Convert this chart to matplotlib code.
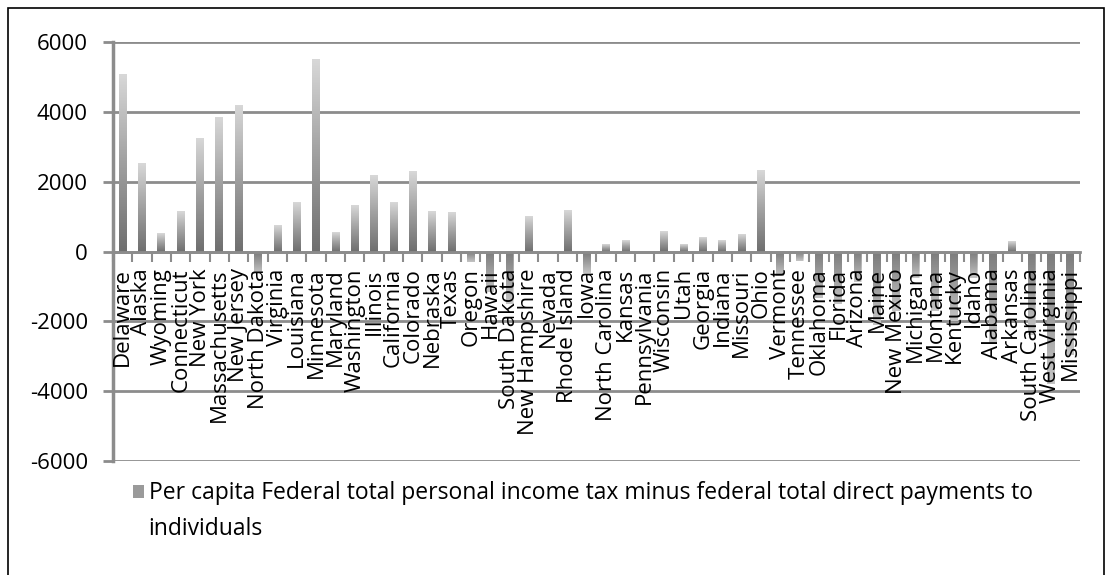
import numpy as np
import matplotlib
matplotlib.use('Agg')
import matplotlib.pyplot as plt
from matplotlib.colors import LinearSegmentedColormap
from matplotlib.patches import Rectangle

plt.rcParams['font.family'] = ['Open Sans', 'DejaVu Sans']

states = ['Delaware', 'Alaska', 'Wyoming', 'Connecticut', 'New York', 'Massachusetts',
          'New Jersey', 'North Dakota', 'Virginia', 'Louisiana', 'Minnesota', 'Maryland',
          'Washington', 'Illinois', 'California', 'Colorado', 'Nebraska', 'Texas',
          'Oregon', 'Hawaii', 'South Dakota', 'New Hampshire', 'Nevada', 'Rhode Island',
          'Iowa', 'North Carolina', 'Kansas', 'Pennsylvania', 'Wisconsin', 'Utah',
          'Georgia', 'Indiana', 'Missouri', 'Ohio', 'Vermont', 'Tennessee', 'Oklahoma',
          'Florida', 'Arizona', 'Maine', 'New Mexico', 'Michigan', 'Montana', 'Kentucky',
          'Idaho', 'Alabama', 'Arkansas', 'South Carolina', 'West Virginia', 'Mississippi']

net_per_capita = [5070, 2530, 530, 1160, 3240, 3850,
                  4210, -600, 760, 1410, 5500, 550,
                  1340, 2200, 1410, 2310, 1160, 1120,
                  -300, -1150, -1500, 1020, -40, 1190,
                  -600, 220, 330, -30, 590, 220,
                  410, 330, 510, 2330, -700, -260, -1330,
                  -1500, -860, -2100, -1700, -760, -1700, -2000,
                  -760, -2650, 300, -2400, -3800, -2950]

yticks = [-6000, -4000, -2000, 0, 2000, 4000, 6000]
legend_line1 = 'Per capita Federal total personal income tax minus federal total direct payments to'
legend_line2 = 'individuals'

grey = '#8c8c8c'
fig = plt.figure(figsize=(11.12, 5.75), dpi=100)
ax = fig.add_axes([0.1016, 0.198, 0.8696, 0.729])

x = np.arange(len(states))
bars = ax.bar(x, net_per_capita, width=0.4, color='#9a9a9a', zorder=2,
              label=legend_line1)

# shade each bar: dark at the zero line, light at the tip
shade = LinearSegmentedColormap.from_list('shade', ['#6e6e6e', '#a0a0a0', '#d8d8d8'])
grad = np.linspace(0, 1, 256).reshape(-1, 1)
for b in bars:
    x0, y0 = b.get_x(), b.get_y()
    w, h = b.get_width(), b.get_height()
    im = ax.imshow(grad, cmap=shade, extent=(x0, x0 + w, y0, y0 + h),
                   origin='lower', aspect='auto', zorder=2.1, interpolation='bilinear',
                   alpha=1.0 if h >= 0 else 0.7)
    im.set_clip_path(b)

ax.set_xlim(-0.5, len(states) - 0.5)
ax.set_ylim(-6000, 6000)
ax.set_yticks(yticks)
ax.set_yticklabels([str(v) for v in yticks])
ax.yaxis.grid(True, color=grey, lw=2)
ax.set_axisbelow(True)

for side in ['top', 'right']:
    ax.spines[side].set_visible(False)
ax.spines['left'].set_color(grey)
ax.spines['left'].set_linewidth(2.5)
ax.spines['bottom'].set_position(('data', 0))
ax.spines['bottom'].set_color(grey)
ax.spines['bottom'].set_linewidth(2)
ax.spines['bottom'].set_zorder(2.2)

# category labels sit under the zero line, tick marks at the category boundaries
ax.set_xticks(x)
ax.set_xticklabels(states, rotation=90, fontsize=16, va='top')
ax.tick_params(axis='x', which='major', length=0, pad=12)
ax.set_xticks(np.arange(len(states) + 1) - 0.5, minor=True)
ax.tick_params(axis='x', which='minor', length=7, width=1.5, color=grey)
ax.tick_params(axis='y', length=7, width=2, color=grey, pad=11, labelsize=16)
ax.xaxis.set_zorder(3)

ax.legend(loc='upper left', bbox_to_anchor=(133 / 1112, 0.163), bbox_transform=fig.transFigure,
          frameon=False, fontsize=16.5, handlelength=0.5, handleheight=0.5,
          handletextpad=0.2, borderpad=0, borderaxespad=0)
# the legend entry wraps onto a second line
fig.text(148 / 1112, 1 - 529 / 575, legend_line2, fontsize=16.5, va='center', ha='left')

fig.add_artist(Rectangle((7.5 / 1112, -0.05), 1096 / 1112, 1.05 - 8 / 575,
                         transform=fig.transFigure, fill=False, ec='black', lw=1.2))

fig.savefig('out.png', dpi=100)
